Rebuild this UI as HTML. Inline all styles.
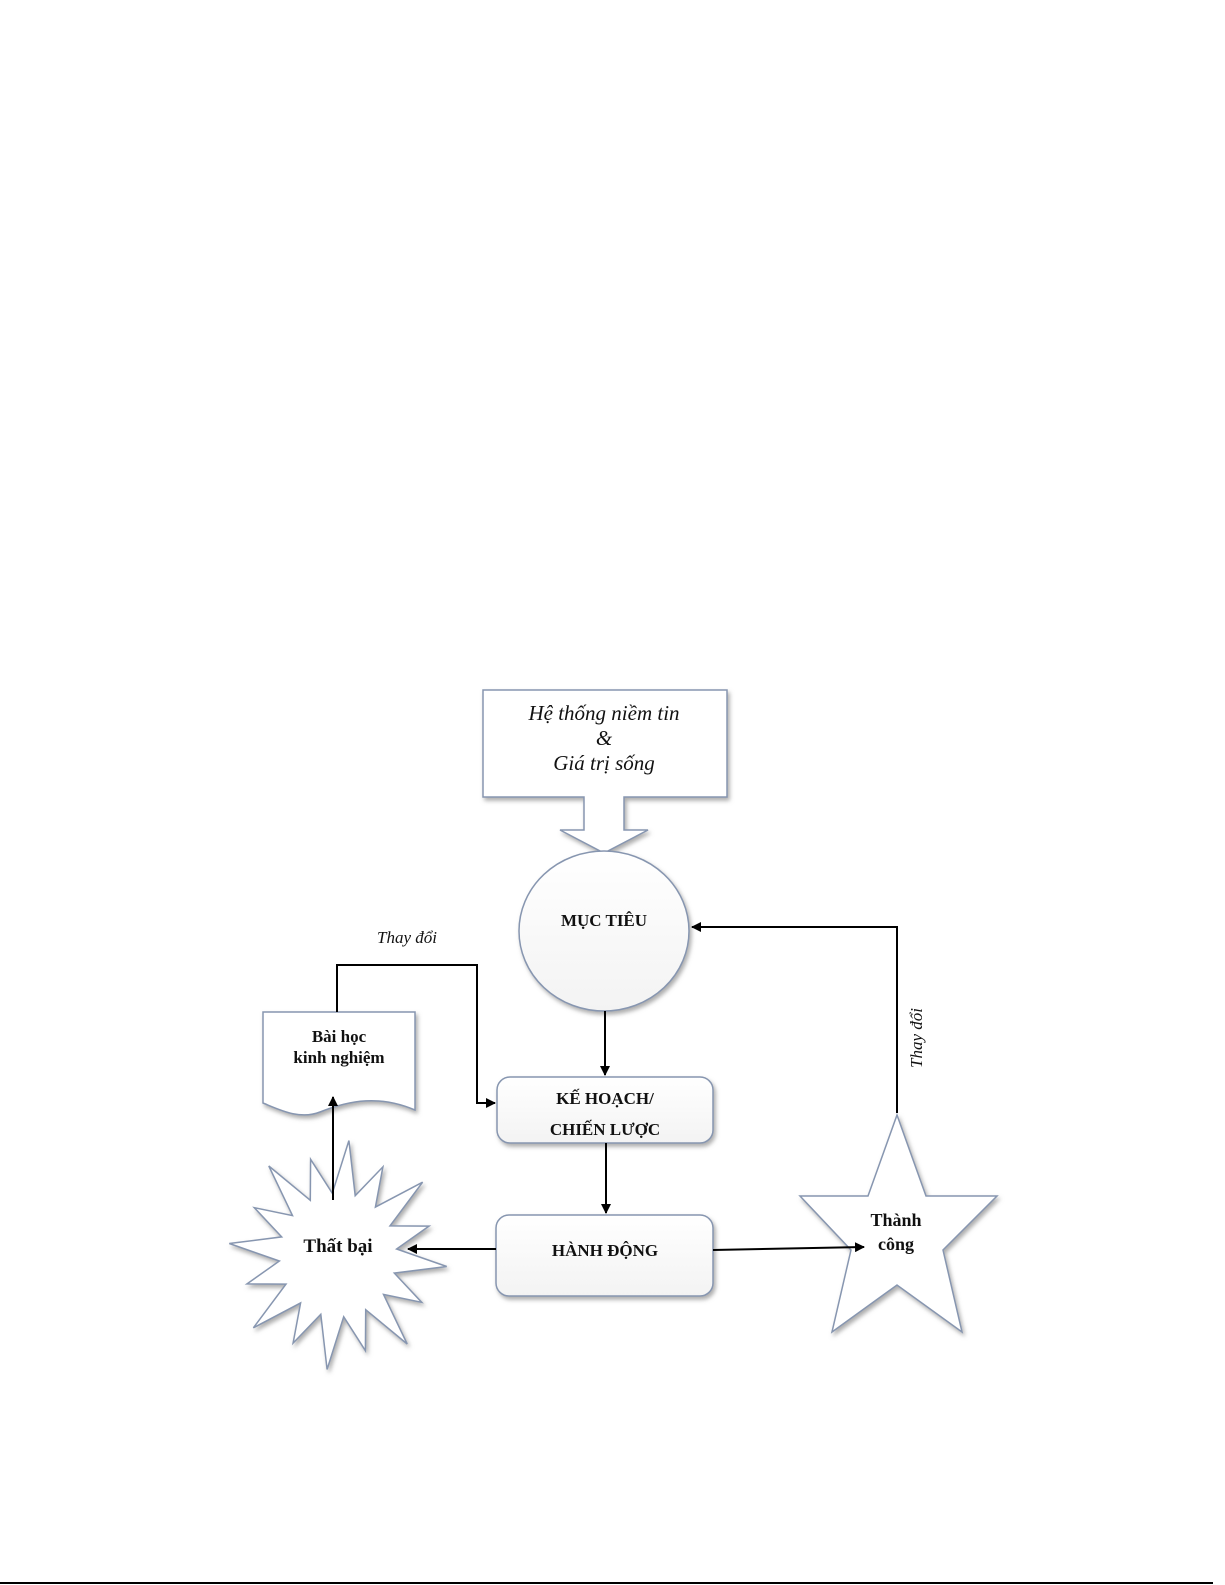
<!DOCTYPE html>
<html><head><meta charset="utf-8"><style>
html,body{margin:0;padding:0;background:#fff;}
svg{display:block;}
text{font-family:"Liberation Serif",serif;fill:#111;}
.b{font-weight:bold;font-size:17px;}
.i{font-style:italic;font-size:21px;}
</style></head><body>
<svg width="1225" height="1585" viewBox="0 0 1225 1585" xmlns="http://www.w3.org/2000/svg">
<defs>
<marker id="ah" markerWidth="10" markerHeight="10" refX="9" refY="5" orient="auto" markerUnits="userSpaceOnUse">
<path d="M0,0 L10,5 L0,10 z" fill="#000"/></marker>
<filter id="sh" x="-10%" y="-10%" width="130%" height="130%"><feDropShadow dx="2" dy="3" stdDeviation="2" flood-color="#777" flood-opacity="0.6"/></filter>
<linearGradient id="g" x1="0" y1="0" x2="0" y2="1"><stop offset="0" stop-color="#fff"/><stop offset="1" stop-color="#f3f3f3"/></linearGradient>
</defs>
<g fill="#fff" stroke="#8796b0" stroke-width="1.5" filter="url(#sh)">
<path d="M483,690 H727 V797 H624 V830 H648 L604,853 L560,830 H584 V797 H483 Z"/>
<ellipse cx="604" cy="931" rx="85" ry="80" fill="url(#g)"/>
<rect x="497" y="1077" width="216" height="66" rx="13" fill="url(#g)"/>
<rect x="496" y="1215" width="217" height="81" rx="13" fill="url(#g)"/>
<path d="M263,1012 H415 V1110 C380,1095 350,1100 320,1112 C300,1120 280,1110 263,1103 Z"/>
<polygon points="897,1115 926,1196 997,1196 943,1250 962,1332 897,1285 832,1332 851,1250 800,1196 868,1196"/>
<polygon id="burst"/>
</g>
<g stroke="#000" stroke-width="2" fill="none">
<polyline points="897,1113 897,927 692,927" marker-end="url(#ah)"/>
<line x1="605" y1="1011" x2="605" y2="1075" marker-end="url(#ah)"/>
<line x1="606" y1="1143" x2="606" y2="1213" marker-end="url(#ah)"/>
<line x1="496" y1="1249" x2="408" y2="1249" marker-end="url(#ah)"/>
<line x1="713" y1="1250" x2="864" y2="1247" marker-end="url(#ah)"/>
<line x1="333" y1="1200" x2="333" y2="1097" marker-end="url(#ah)"/>
<polyline points="337,1012 337,965 477,965 477,1103 495,1103" marker-end="url(#ah)"/>
</g>
<text class="i" x="604" y="720" text-anchor="middle">Hệ thống niềm tin</text>
<text class="i" x="604" y="745" text-anchor="middle">&amp;</text>
<text class="i" x="604" y="770" text-anchor="middle">Giá trị sống</text>
<text class="b" x="604" y="926" text-anchor="middle">MỤC TIÊU</text>
<text class="b" x="605" y="1104" text-anchor="middle">KẾ HOẠCH/</text>
<text class="b" x="605" y="1135" text-anchor="middle">CHIẾN LƯỢC</text>
<text class="b" x="605" y="1256" text-anchor="middle">HÀNH ĐỘNG</text>
<text class="b" x="339" y="1042" text-anchor="middle">Bài học</text>
<text class="b" x="339" y="1063" text-anchor="middle">kinh nghiệm</text>
<text class="b" style="font-size:19px" x="338" y="1252" text-anchor="middle">Thất bại</text>
<text class="b" style="font-size:18px" x="896" y="1226" text-anchor="middle">Thành</text>
<text class="b" style="font-size:18px" x="896" y="1250" text-anchor="middle">công</text>
<text class="i" style="font-size:17px" x="407" y="943" text-anchor="middle">Thay đổi</text>
<text class="i" style="font-size:17px" transform="translate(922,1038) rotate(-90)" text-anchor="middle">Thay đổi</text>
<line x1="0" y1="1583" x2="1213" y2="1583" stroke="#000" stroke-width="2"/>
</svg>
<script>
var cx=338,cy=1255,n=16,pts=[];
for(var k=0;k<2*n;k++){var a=Math.PI*k/n-Math.PI/2+0.1;var r=(k%2==0)?(k%4==0?115:100):62;pts.push((cx+r*Math.cos(a)*0.95).toFixed(1)+','+(cy+r*Math.sin(a)).toFixed(1));}
document.getElementById('burst').setAttribute('points',pts.join(' '));
</script>
</body></html>
